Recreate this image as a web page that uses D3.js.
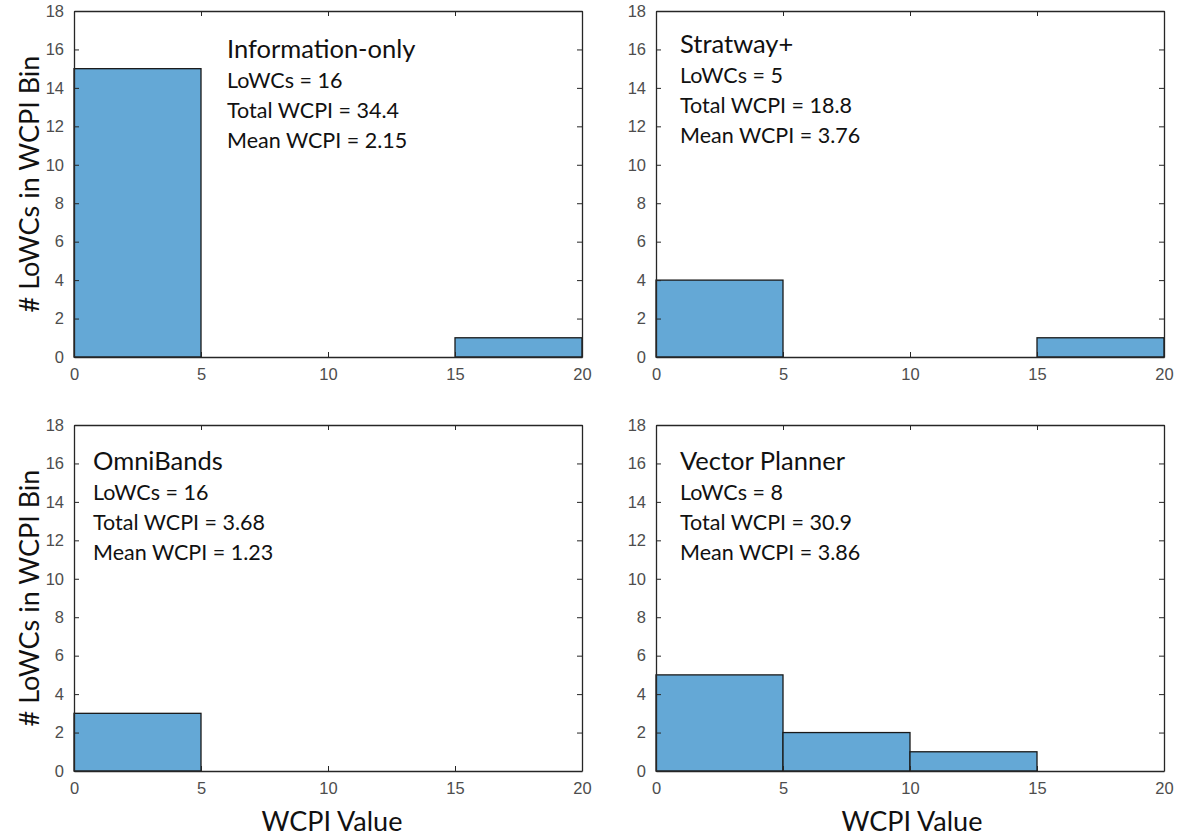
<!DOCTYPE html>
<meta charset="utf-8">
<script src="https://d3js.org/d3.v7.min.js"></script>
<style>
  body { margin: 0; background: #fff; }
  .note { font-family: Lato, "Open Sans", sans-serif; fill: #111; }
  .lab { font-family: Lato, "Open Sans", sans-serif; font-size: 27px; fill: #111; }
</style>
<body>
<div id="chart"></div>
<script>

// histogram bins (WCPI value), counts per bin for each planner
var binEdges = [0, 5, 10, 15, 20];
var infoCounts = [15, 0, 0, 1];
var stratCounts = [4, 0, 0, 1];
var omniCounts = [3, 0, 0, 0];
var vectorCounts = [5, 2, 1, 0];

var panelNames = ["Information-only", "Stratway+", "OmniBands", "Vector Planner"];
var lowcs = ["16", "5", "16", "8"];
var totals = ["34.4", "18.8", "3.68", "30.9"];
var means = ["2.15", "3.76", "1.23", "3.86"];

var xTicks = [0, 5, 10, 15, 20];
var yTicks = [0, 2, 4, 6, 8, 10, 12, 14, 16, 18];

var W = 1184, H = 836;
var svg = d3.select("#chart").append("svg")
  .attr("width", W).attr("height", H);

var pw = 508, ph = 346;
// panel origins (top-left of plot box)
var panels = [
  {x: 74, y: 11, counts: infoCounts, tx: 153, ty: 37},
  {x: 656, y: 11, counts: stratCounts, tx: 24, ty: 32},
  {x: 74, y: 425, counts: omniCounts, tx: 19, ty: 35},
  {x: 656, y: 425, counts: vectorCounts, tx: 24, ty: 35}
];

panels.forEach(function(p, i) {
  var x = d3.scaleLinear().domain([0, 20]).range([0, pw]);
  var y = d3.scaleLinear().domain([0, 18]).range([ph, 0]);

  var g = svg.append("g").attr("transform", "translate(" + p.x + "," + p.y + ")");

  var bins = p.counts.map(function(c, k) { return {x0: binEdges[k], x1: binEdges[k + 1], n: c}; });

  g.selectAll("rect.bar")
    .data(bins.filter(function(d) { return d.n > 0; }))
    .enter().append("rect")
      .attr("class", "bar")
      .attr("x", function(d) { return x(d.x0); })
      .attr("width", function(d) { return x(d.x1) - x(d.x0); })
      .attr("y", function(d) { return y(d.n); })
      .attr("height", function(d) { return y(0) - y(d.n); })
      .style("fill", "#64a8d6")
      .style("stroke", "#1a1a1a")
      .style("stroke-width", 1.3);

  // axes, MATLAB-style inward ticks on all four sides
  var ax = g.append("g").attr("transform", "translate(0," + ph + ")")
    .call(d3.axisBottom(x).tickValues(xTicks).tickSizeInner(-5).tickSizeOuter(0).tickPadding(11));
  var ay = g.append("g")
    .call(d3.axisLeft(y).tickValues(yTicks).tickSizeInner(-5).tickSizeOuter(0).tickPadding(10));
  var at = g.append("g")
    .call(d3.axisTop(x).tickValues(xTicks).tickSizeInner(-5).tickSizeOuter(0).tickFormat(""));
  var ar = g.append("g").attr("transform", "translate(" + pw + ",0)")
    .call(d3.axisRight(y).tickValues(yTicks).tickSizeInner(-5).tickSizeOuter(0).tickFormat(""));
  [ax, ay, at, ar].forEach(function(a) {
    a.select(".domain").style("stroke", "#262626").style("stroke-width", 1.3);
    a.selectAll(".tick line").style("stroke", "#262626");
    a.selectAll(".tick text")
      .style("font-family", "'Liberation Sans', Arial, sans-serif")
      .style("font-size", "16.5px")
      .style("fill", "#4d4d4d");
  });

  // annotation text
  var t = g.append("g").attr("transform", "translate(" + p.tx + "," + p.ty + ")");
  t.append("text").attr("class", "note").attr("y", 10).style("font-size", "25.5px").text(panelNames[i]);
  t.append("text").attr("class", "note").attr("y", 40).style("font-size", "21.5px").text("LoWCs = " + lowcs[i]);
  t.append("text").attr("class", "note").attr("y", 70).style("font-size", "21.5px").text("Total WCPI = " + totals[i]);
  t.append("text").attr("class", "note").attr("y", 100).style("font-size", "21.5px").text("Mean WCPI = " + means[i]);
});

// axis labels
[184, 598].forEach(function(cy) {
  svg.append("text").attr("class", "lab")
    .attr("transform", "translate(39," + cy + ") rotate(-90)")
    .style("text-anchor", "middle")
    .text("# LoWCs in WCPI Bin");
});
[332, 912].forEach(function(cx) {
  svg.append("text").attr("class", "lab")
    .attr("x", cx).attr("y", 831)
    .style("text-anchor", "middle")
    .text("WCPI Value");
});

</script>
</body>
